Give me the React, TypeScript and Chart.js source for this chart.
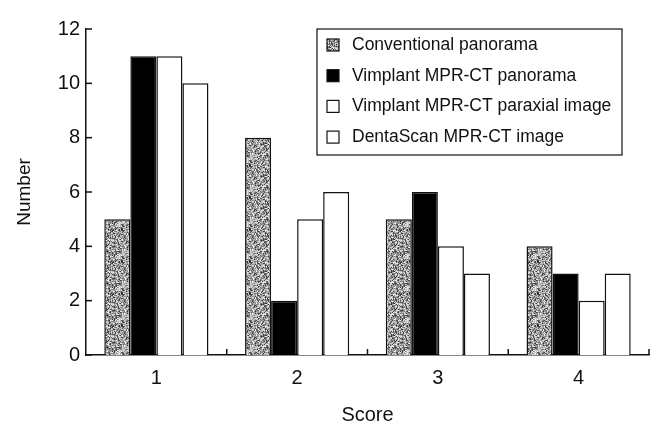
import React, { useEffect, useRef } from "react";
import { Chart, registerables } from "chart.js";

Chart.register(...registerables);

const categories = ["1", "2", "3", "4"];
const seriesNames = [
  "Conventional panorama",
  "Vimplant MPR-CT panorama",
  "Vimplant MPR-CT paraxial image",
  "DentaScan MPR-CT image",
];
const conventional = [5, 8, 5, 4];
const vimplantPanorama = [11, 2, 6, 3];
const vimplantParaxial = [11, 5, 4, 2];
const dentaScan = [10, 6, 3, 3];
const yTicks = [0, 2, 4, 6, 8, 10, 12];

const FONT = "'Liberation Sans', Arial, Helvetica, sans-serif";

function texHash(x: number, y: number): number {
  let h = (Math.imul(x, 374761393) + Math.imul(y, 668265263)) | 0;
  h = Math.imul(h ^ (h >>> 13), 1274126177);
  h ^= h >>> 16;
  return h >>> 0;
}

function makeStipple(): CanvasPattern | string {
  const size = 32;
  const c = document.createElement("canvas");
  c.width = size;
  c.height = size;
  const g = c.getContext("2d");
  if (!g) return "#999999";
  const shades = [60, 95, 125, 150, 170, 190, 210, 235];
  for (let y = 0; y < size; y++) {
    for (let x = 0; x < size; x++) {
      const v = shades[texHash(x, y) % shades.length];
      g.fillStyle = `rgb(${v},${v},${v})`;
      g.fillRect(x, y, 1, 1);
    }
  }
  const p = g.createPattern(c, "repeat");
  return p || "#999999";
}

export default function App() {
  const ref = useRef<HTMLCanvasElement | null>(null);

  useEffect(() => {
    if (!ref.current) return;
    const stipple = makeStipple();
    const fills: any[] = [stipple, "#000000", "#ffffff", "#ffffff"];
    const values = [conventional, vimplantPanorama, vimplantParaxial, dentaScan];

    const customPlugin = {
      id: "custom",
      afterDraw(chart: any) {
        const { ctx, chartArea } = chart;
        const ys = chart.scales.y;
        ctx.save();
        ctx.strokeStyle = "#111";
        ctx.lineWidth = 1.5;
        for (const t of yTicks) {
          const py = ys.getPixelForValue(t);
          ctx.beginPath();
          ctx.moveTo(chartArea.left, py);
          ctx.lineTo(chartArea.left + 6, py);
          ctx.stroke();
        }
        const n = categories.length;
        const w = (chartArea.right - chartArea.left) / n;
        for (let i = 1; i <= n; i++) {
          const px = chartArea.left + w * i;
          ctx.beginPath();
          ctx.moveTo(px, chartArea.bottom);
          ctx.lineTo(px, chartArea.bottom - 6);
          ctx.stroke();
        }
        const lx = chartArea.left + 231;
        const ly = chartArea.top;
        const lw = 305;
        const lh = 126;
        ctx.fillStyle = "#fff";
        ctx.fillRect(lx, ly, lw, lh);
        ctx.lineWidth = 1.2;
        ctx.strokeRect(lx, ly, lw, lh);
        ctx.font = `17.5px ${FONT}`;
        ctx.textBaseline = "middle";
        ctx.textAlign = "left";
        chart.data.datasets.forEach((ds: any, i: number) => {
          const cy = ly + 16 + i * 30.7;
          ctx.fillStyle = ds.backgroundColor;
          ctx.fillRect(lx + 10, cy - 6, 12, 12);
          ctx.lineWidth = 1.2;
          ctx.strokeStyle = "#111";
          ctx.strokeRect(lx + 10, cy - 6, 12, 12);
          ctx.fillStyle = "#111";
          ctx.fillText(ds.label, lx + 35, cy);
        });
        ctx.restore();
      },
    };

    const chart = new Chart(ref.current, {
      type: "bar",
      data: {
        labels: categories,
        datasets: seriesNames.map((name, i) => ({
          label: name,
          data: values[i],
          backgroundColor: fills[i],
          borderColor: "#111",
          borderWidth: 1.5,
          barPercentage: 1,
          categoryPercentage: 0.74,
        })),
      },
      options: {
        responsive: false,
        animation: false,
        layout: { padding: { top: 29, right: 7, left: 0, bottom: 0 } },
        plugins: {
          legend: { display: false },
          tooltip: { enabled: false },
        },
        scales: {
          x: {
            grid: { display: false, drawTicks: false },
            border: { display: true, color: "#111", width: 1.5 },
            ticks: { color: "#111", font: { family: FONT, size: 20 }, padding: 11 },
            title: {
              display: true,
              text: "Score",
              color: "#111",
              font: { family: FONT, size: 20 },
              padding: { top: 0, bottom: 0 },
            },
            afterFit(scale: any) {
              scale.height = 72;
            },
          },
          y: {
            min: 0,
            max: 12,
            grid: { display: false, drawTicks: false },
            border: { display: true, color: "#111", width: 1.5 },
            ticks: {
              stepSize: 2,
              color: "#111",
              font: { family: FONT, size: 20 },
              padding: 6,
            },
            title: {
              display: true,
              text: "Number",
              color: "#111",
              font: { family: FONT, size: 19 },
              padding: { top: 13, bottom: 0 },
            },
            afterFit(scale: any) {
              scale.width = 86;
            },
          },
        },
      },
      plugins: [customPlugin],
    });
    return () => chart.destroy();
  }, []);

  return (
    <div style={{ position: "absolute", left: 0, top: 0, width: 656, height: 427, background: "#fff" }}>
      <canvas ref={ref} width={656} height={427} />
    </div>
  );
}
